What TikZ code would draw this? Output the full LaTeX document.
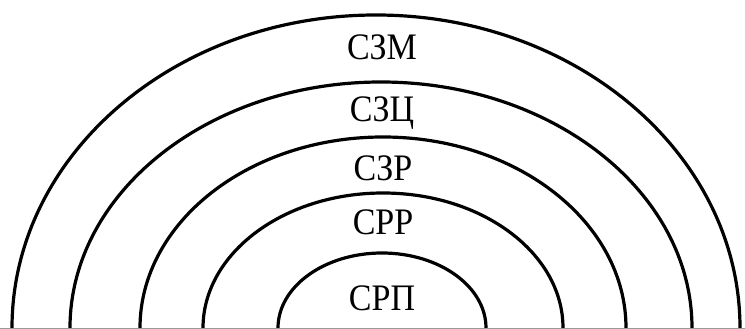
\documentclass[tikz,border=0pt]{standalone}
\usepackage{fontspec}
\setmainfont{Liberation Serif}
\usetikzlibrary{positioning}
\definecolor{cBase}{HTML}{9A9A9A}

\begin{document}
\begin{tikzpicture}[x=1pt,y=1pt,
    zone/.style={line width=3.2pt,black},
    zonelabel/.style={font=\fontsize{34}{34}\selectfont,inner sep=0pt,yscale=1.1}]
  \useasboundingbox (0,0) rectangle (745,329);
  % arcs: centre x / half width / height
  \foreach \cx/\a/\b in {376/364/313, 381/311/246, 383/243/191, 383/180/135, 382/104/75}
    \draw[zone] (\cx-\a,1) arc[start angle=180,end angle=0,x radius=\a,y radius=\b];
  \draw[cBase,line width=1pt] (0,0.5) -- (745,0.5);
  \node[zonelabel] (szm) at (382,282) {СЗМ};
  \node[zonelabel] (szc) at (382,216) {СЗЦ};
  \node[zonelabel] (szr) at (383,161) {СЗР};
  \node[zonelabel] (srr) at (383,107) {СРР};
  \node[zonelabel] (srp) at (382,31) {СРП};
\end{tikzpicture}
\end{document}
